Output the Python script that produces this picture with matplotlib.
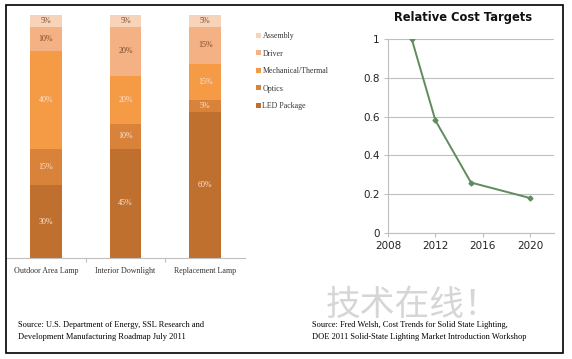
import numpy as np
import matplotlib
matplotlib.use("Agg")
import matplotlib.pyplot as plt
from matplotlib.patches import Rectangle

# bar chart data (percent of cost)
lamps = ["Outdoor Area Lamp", "Interior Downlight", "Replacement Lamp"]
parts = ["LED Package", "Optics", "Mechanical/Thermal", "Driver", "Assembly"]
led_package = [30, 45, 60]
optics = [15, 10, 5]
mechanical = [40, 20, 15]
driver = [10, 20, 15]
assembly = [5, 5, 5]
part_colors = ["#C0702E", "#D9823A", "#F59A45", "#F4B183", "#F7D3B9"]

# line chart data
years = [2010, 2012, 2015, 2020]
rel_cost = [1.0, 0.58, 0.26, 0.18]

W, H = 572, 359
fig = plt.figure(figsize=(W / 100, H / 100), dpi=100)
serif = "Liberation Serif"

def box(x0, y0, x1, y1):
    # pixel box -> figure fraction
    return [x0 / W, 1 - y1 / H, (x1 - x0) / W, (y1 - y0) / H]

# outer frame
fig.patches.append(Rectangle((6 / W, 1 - 353 / H), 557 / W, 348 / H,
                             transform=fig.transFigure, fill=False,
                             edgecolor="black", linewidth=1.2))

# stacked bars
ax = fig.add_axes(box(6, 15, 245, 258))
x = np.arange(len(lamps))
series = [led_package, optics, mechanical, driver, assembly]
bottom = np.zeros(len(lamps))
for name, vals, col in zip(parts, series, part_colors):
    ax.bar(x, vals, 0.4, bottom=bottom, color=col, label=name)
    for xi, b, v in zip(x, bottom, vals):
        tc = "#7A4A2A" if name in ("Driver", "Assembly") else "#FBE6D6"
        ax.text(xi, b + v / 2, f"{v}%", ha="center", va="center",
                fontsize=5.8, family=serif, color=tc)
    bottom += vals
ax.set_xlim(-0.5, 2.5)
ax.set_ylim(0, 100)
ax.set_yticks([])
ax.set_xticks([0.5, 1.5])
ax.set_xticklabels([])
ax.tick_params(axis="x", length=3, color="#BFBFBF")
for i, lab in enumerate(lamps):
    ax.text(i, -3.8, lab, ha="center", va="top", fontsize=5.8,
            family=serif, color="#333333")
for s in ["top", "left", "right"]:
    ax.spines[s].set_visible(False)
ax.spines["bottom"].set_color("#BFBFBF")

handles, labels = ax.get_legend_handles_labels()
fig.legend(handles[::-1], labels[::-1], loc="upper left",
           bbox_to_anchor=(249 / W, 1 - 25 / H), frameon=False,
           prop={"family": serif, "size": 5.7}, handlelength=0.6,
           handleheight=0.6, handletextpad=0.2, labelspacing=1.2,
           labelcolor="#333333")

# line chart
ax2 = fig.add_axes(box(388, 39, 554, 233))
ax2.plot(years, rel_cost, color="#5E8C5C", linewidth=1.4,
         marker="D", markersize=2.5)
ax2.set_xlim(2008, 2022)
ax2.set_ylim(0, 1)
ax2.set_xticks([2008, 2012, 2016, 2020])
ax2.set_yticks([0, 0.2, 0.4, 0.6, 0.8, 1])
ax2.set_yticklabels(["0", "0.2", "0.4", "0.6", "0.8", "1"])
ax2.grid(axis="y", color="#BFBFBF", linewidth=0.8)
ax2.set_axisbelow(True)
for s in ["top", "right"]:
    ax2.spines[s].set_visible(False)
ax2.spines["left"].set_color("#BFBFBF")
ax2.spines["bottom"].set_color("#BFBFBF")
ax2.tick_params(length=3, color="#BFBFBF", labelsize=7.5, pad=3,
                labelcolor="#222222")
fig.text(463 / W, 1 - 18 / H, "Relative Cost Targets", fontsize=8.3,
         fontweight="bold", ha="center", va="center", color="#111111")

# watermark
fig.text(413 / W, 1 - 305 / H, "技术在线！", fontsize=25, color="#D6D6D6",
         ha="center", va="center", family=["Noto Sans CJK SC", "DejaVu Sans"])

# sources
fig.text(18 / W, 1 - 331 / H,
         "Source: U.S. Department of Energy, SSL Research and\n"
         "Development Manufacturing Roadmap July 2011",
         fontsize=6, family=serif, va="center", linespacing=1.55)
fig.text(312 / W, 1 - 331 / H,
         "Source: Fred Welsh, Cost Trends for Solid State Lighting,\n"
         "DOE 2011 Solid-State Lighting Market Introduction Workshop",
         fontsize=6, family=serif, va="center", linespacing=1.55)

fig.savefig("out.png", dpi=100)
